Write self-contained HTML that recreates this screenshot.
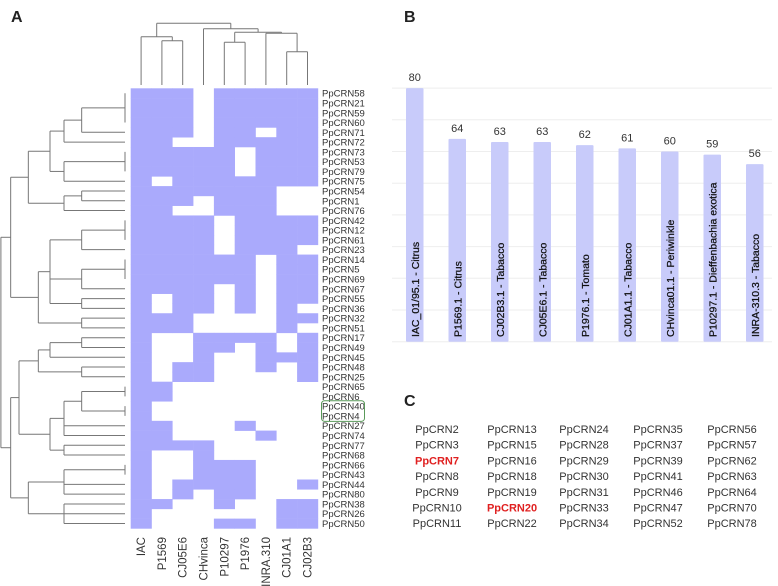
<!DOCTYPE html>
<html><head><meta charset="utf-8"><style>
html,body{margin:0;padding:0;background:#fff;}
svg{display:block;font-family:"Liberation Sans",sans-serif;}
</style></head><body>
<svg id="fig" width="778" height="586" viewBox="0 0 778 586" xmlns="http://www.w3.org/2000/svg">
<text x="11" y="22" font-size="16" font-weight="bold" fill="#222">A</text>
<text x="404" y="22" font-size="16" font-weight="bold" fill="#222">B</text>
<text x="404" y="406" font-size="16" font-weight="bold" fill="#222">C</text>
<g id="heat"></g>
<g id="dendL"></g>
<g id="dendT"></g>
<g id="bars"></g>
<g id="list"></g>
</svg>
<script>
const rowNames=["PpCRN58","PpCRN21","PpCRN59","PpCRN60","PpCRN71","PpCRN72","PpCRN73","PpCRN53","PpCRN79","PpCRN75","PpCRN54","PpCRN1","PpCRN76","PpCRN42","PpCRN12","PpCRN61","PpCRN23","PpCRN14","PpCRN5","PpCRN69","PpCRN67","PpCRN55","PpCRN36","PpCRN32","PpCRN51","PpCRN17","PpCRN49","PpCRN45","PpCRN48","PpCRN25","PpCRN65","PpCRN6","PpCRN40","PpCRN4","PpCRN27","PpCRN74","PpCRN77","PpCRN68","PpCRN66","PpCRN43","PpCRN44","PpCRN80","PpCRN38","PpCRN26","PpCRN50"];
const colNames=["IAC","P1569","CJ05E6","CHvinca","P10297","P1976","INRA.310","CJ01A1","CJ02B3"];
const matrix=["111011111","111011111","111011111","111011111","111011011","110011111","111110111","111110111","111110111","101111111","111111100","111011100","110011100","111101111","111101111","111101111","111101110","111111011","111111011","111111011","111101011","101101011","101101010","111000011","111000010","100111101","100110101","100100111","101100101","101100001","110000000","110000000","100000000","100000000","110001000","110000100","111100000","100100000","100111000","100111000","101111001","101011000","110010011","100000011","100011011"];
const rowTree=[2.7,[32,[85,[150,[192,[245,[375,0,1,2,3],4],5],[192,[375,6,7,8],9]],[192,[245,10,11],12]],[115,[150,[245,[375,13,14,15],16],[245,[375,17,18,19],20],[245,21,22]],[245,23,24]]],[32,[57,[115,[150,[245,25,26],27],[245,28,29]],[150,[192,[245,[375,30,31],[375,32,33]],34,35],[192,36,37]]],[85,[192,[375,38,39],40,41],[192,42,43,44]]]];
const colTree=[23.3,[36.7,0,[40.7,1,2]],[28.7,3,[32.3,[42.3,4,5],[33.3,6,[51.7,7,8]]]]];
const barLabels=["IAC_01/95.1 - Citrus","P1569.1 - Citrus","CJ02B3.1 - Tabacco","CJ05E6.1 - Tabacco","P1976.1 - Tomato","CJ01A1.1 - Tabacco","CHvinca01.1 - Periwinkle","P10297.1 - Dieffenbachia exotica","INRA-310.3 - Tabacco"];
const barValues=[80,64,63,63,62,61,60,59,56];
const gridTicks=[0,10,20,30,40,50,60,70,80];
const listCols=[["PpCRN2","PpCRN3","PpCRN7","PpCRN8","PpCRN9","PpCRN10","PpCRN11"],["PpCRN13","PpCRN15","PpCRN16","PpCRN18","PpCRN19","PpCRN20","PpCRN22"],["PpCRN24","PpCRN28","PpCRN29","PpCRN30","PpCRN31","PpCRN33","PpCRN34"],["PpCRN35","PpCRN37","PpCRN39","PpCRN41","PpCRN46","PpCRN47","PpCRN52"],["PpCRN56","PpCRN57","PpCRN62","PpCRN63","PpCRN64","PpCRN70","PpCRN78"]];
const highlighted=["PpCRN7","PpCRN20"];

const NS="http://www.w3.org/2000/svg";
function mk(tag,attrs,parent){const e=document.createElementNS(NS,tag);for(const k in attrs)e.setAttribute(k,attrs[k]);parent.appendChild(e);return e;}

const hx0=130.7,hy0=88.3,cw=20.8,rh=9.78;
const heat=document.getElementById('heat');
matrix.forEach((row,r)=>{
  for(let c=0;c<row.length;c++){
    if(row[c]==='1'){
      const e=mk('rect',{x:hx0+c*cw,y:hy0+r*rh,width:cw+0.3,height:rh+0.3,fill:'#aaaafc'},heat);
      
      
    }
  }
  const t=mk('text',{x:322,y:hy0+r*rh+rh/2+3.5,'font-size':9.5,fill:'#333'},heat);
  t.textContent=rowNames[r];
  
  
});
const box=mk('rect',{x:321.5,y:hy0+32*rh-0.5,width:43,height:rh*2+1,rx:3,fill:'none',stroke:'#5a9a5a','stroke-width':1},heat);


colNames.forEach((n,c)=>{
  const cx=hx0+cw*(c+0.5)+4;
  const t=mk('text',{x:cx,y:537,'font-size':11.5,fill:'#333','text-anchor':'end',transform:`rotate(-90 ${cx} 537)`},heat);
  t.textContent=n;
  
  
});

const dl=document.getElementById('dendL');
function line(g,x1,y1,x2,y2){const e=mk('line',{x1,y1,x2,y2,stroke:'#777','stroke-width':1},g);}
function drawRow(node){
  if(typeof node==='number') return {x:125,y:hy0+rh*(node+0.5)};
  const h=node[0]/3;const kids=node.slice(1).map(drawRow);
  const ys=kids.map(k=>k.y);
  kids.forEach(k=>line(dl,h,k.y,k.x,k.y));
  line(dl,h,Math.min(...ys),h,Math.max(...ys));
  return {x:h,y:(Math.min(...ys)+Math.max(...ys))/2};
}
drawRow(rowTree);
const dt=document.getElementById('dendT');
function drawCol(node){
  if(typeof node==='number') return {x:hx0+cw*(node+0.5),y:85};
  const h=node[0];const kids=node.slice(1).map(drawCol);
  const xs=kids.map(k=>k.x);
  kids.forEach(k=>line(dt,k.x,h,k.x,k.y));
  line(dt,Math.min(...xs),h,Math.max(...xs),h);
  return {x:(Math.min(...xs)+Math.max(...xs))/2,y:h};
}
drawCol(colTree);

const bars=document.getElementById('bars');
const base=341.7,pxPer=3.17,bx0=406,bstep=42.5,bw=17.5;
const yS=v=>base-v*pxPer;
gridTicks.forEach(t=>{
  const e=mk('line',{x1:392,x2:772,y1:yS(t),y2:yS(t),stroke:'#eeeeee','stroke-width':1},bars);
  
  
});
barValues.forEach((v,i)=>{
  const x=bx0+i*bstep;
  const r=mk('rect',{x,y:yS(v),width:bw,height:v*pxPer,fill:'#c8cbfa',rx:1},bars);
  
  
  const t=mk('text',{x:x+bw/2,y:yS(v)-7,'font-size':11,fill:'#333','text-anchor':'middle'},bars);
  t.textContent=v;
  
  
  const lx=x+bw/2+4,ly=337;
  const l=mk('text',{x:lx,y:ly,'font-size':10.5,fill:'#111',stroke:'#111','stroke-width':0.25,transform:`rotate(-90 ${lx} ${ly})`},bars);
  l.textContent=barLabels[i];
  
  
});

const list=document.getElementById('list');
const lxs=[437,512,584,658,732];
listCols.forEach((col,ci)=>{
  col.forEach((n,ri)=>{
    const hl=highlighted.includes(n);
    const t=mk('text',{x:lxs[ci],y:433+ri*15.7,'font-size':11,'text-anchor':'middle',fill:hl?'#e02020':'#333','font-weight':hl?'bold':'normal'},list);
    t.textContent=n;
    
    
  });
});
</script>
</body></html>
